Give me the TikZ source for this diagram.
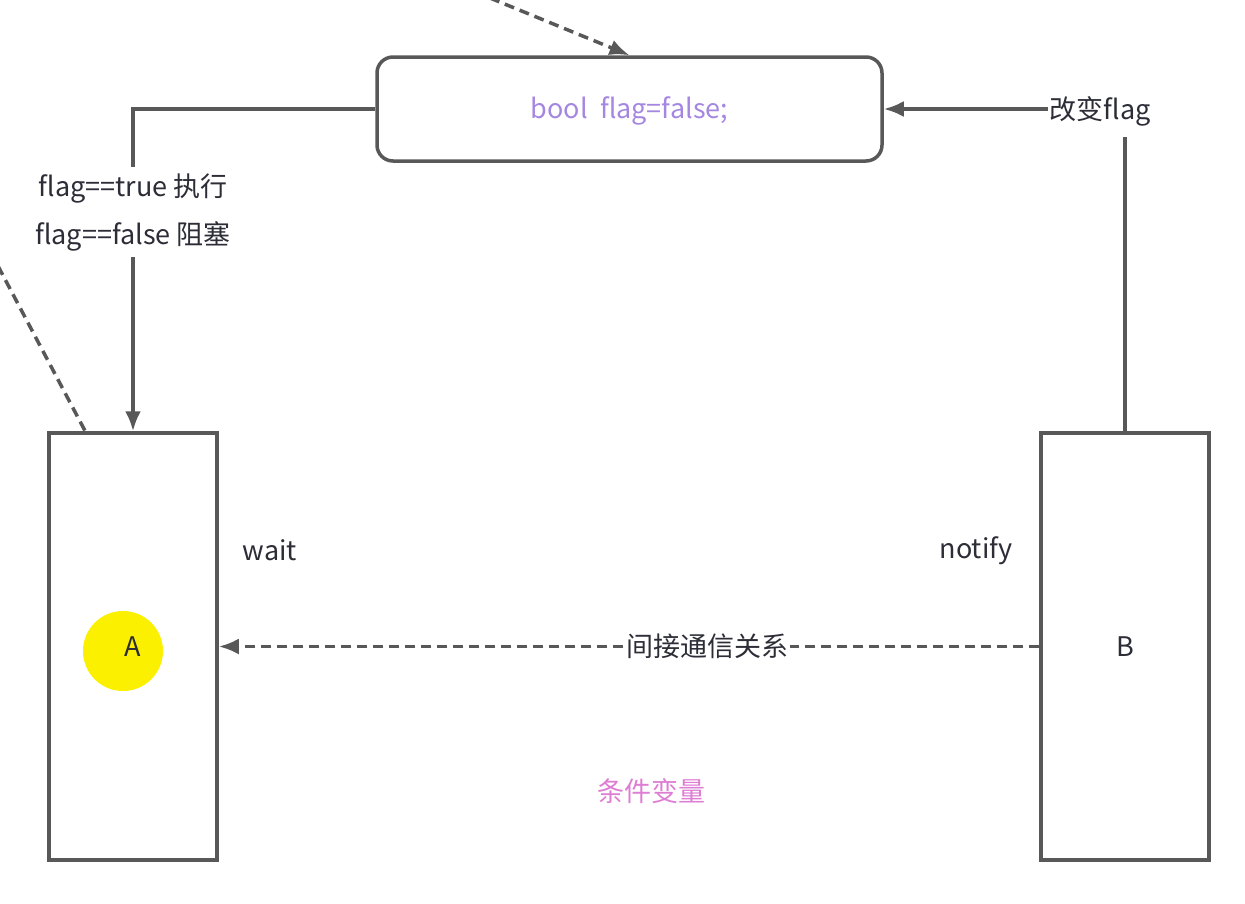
\documentclass[tikz,border=0pt]{standalone}
\usepackage{fontspec}
\setmainfont{Noto Sans CJK SC}
\usetikzlibrary{arrows.meta, calc, positioning}
\definecolor{lineGray}{RGB}{88,88,88}
\definecolor{textDark}{RGB}{45,45,55}
\definecolor{flagPurple}{RGB}{165,135,225}
\definecolor{notePink}{RGB}{222,125,212}
\definecolor{markYellow}{RGB}{250,240,0}
\tikzset{
    thread/.style={rectangle, draw=lineGray, line width=3.5pt, minimum width=168pt, minimum height=427pt, inner sep=0pt, text=textDark},
    flagBox/.style={rectangle, rounded corners=16pt, draw=lineGray, line width=3.5pt, minimum width=505pt, minimum height=104pt, text=flagPurple, text depth=2pt},
    flowEdge/.style={-{Latex[length=20pt,width=16pt]}, draw=lineGray, line width=3.5pt},
    flowDash/.style={flowEdge, dash pattern=on 10pt off 6pt},
    plainDash/.style={draw=lineGray, line width=3.5pt, dash pattern=on 10pt off 6pt},
    tag/.style={fill=white, inner sep=3pt, text=textDark},
}
\begin{document}
\begin{tikzpicture}[x=1pt, y=-1pt, font=\fontsize{27}{48}\selectfont]
    \useasboundingbox (0,0) rectangle (1245,903);

    % marker behind thread A
    \fill[markYellow] (123,651) circle (40);

    \node[flagBox] (flag) at (629.5,109) {bool\ \ flag=false;};
    \node[thread] (A) at (133,646.5) {A};
    \node[thread] (B) at (1125,646.5) {B};

    \coordinate (topIn) at (490,-2);
    \coordinate (leftIn) at (-2,266);

    \draw[flowDash] (topIn) -- (flag.north);
    \draw[plainDash] (leftIn) -- ($(A.north west)+(38,0)$);

    \draw[flowEdge] (flag.west) -| node[tag, pos=0.66, align=center, inner ysep=6pt] {flag==true 执行\\flag==false 阻塞} (A.north);
    \draw[flowEdge] (B.north) |- node[tag, pos=0.5, xshift=-25pt, yshift=-2pt, inner xsep=2pt, inner ysep=11pt] {改变flag} (flag.east);
    \draw[flowDash] (B.west) -- node[tag, pos=0.404, inner sep=1pt] {间接通信关系} (A.east);

    \node[text=textDark] (wait) at (270,550) {wait};
    \node[text=textDark] (notify) at (976,551) {notify};
    \node[text=notePink] (cond) at (651,791) {条件变量};

\end{tikzpicture}
\end{document}
